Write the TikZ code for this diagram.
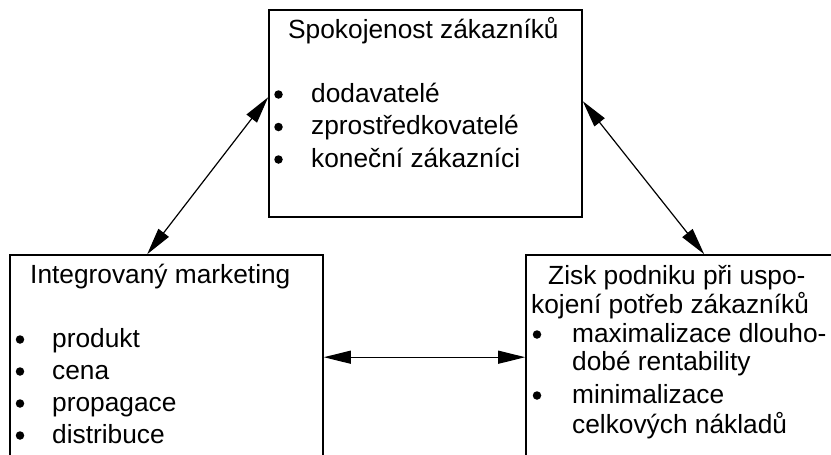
\documentclass[tikz,border=0pt]{standalone}
\usepackage{fontspec}
\setmainfont{Liberation Sans}
\usetikzlibrary{arrows.meta,calc}
\begin{document}
\begin{tikzpicture}[x=1pt,y=-1pt,
  box/.style={draw,line width=1.6pt,rectangle,inner sep=0pt},
  txt/.style={inner sep=0pt,anchor=base west,font=\fontsize{26.3}{32}\selectfont},
  bul/.style={circle,fill,inner sep=0pt,minimum size=8.5pt},
  link/.style={line width=1.2pt,{Triangle[length=27pt,width=13pt]}-{Triangle[length=27pt,width=13pt]}}]
\useasboundingbox (0,0) rectangle (831,455);
\clip (0,0) rectangle (831,455);
% boxes
\node[box,minimum width=313pt,minimum height=207pt] (top) at (425.5,113.5) {};
\node[box,minimum width=313pt,minimum height=265pt] (left) at (166.5,387.5) {};
\node[box,minimum width=354pt,minimum height=265pt] (right) at (703,387.5) {};
% top box text
\node[txt] (t0) at (288,38) {Spokojenost zákazníků};
\node[bul] (tb1) at (278.5,94.5) {};
\node[txt] (t1) at (311,102) {dodavatelé};
\node[bul] (tb2) at (278.5,127) {};
\node[txt] (t2) at (311,134.5) {zprostředkovatelé};
\node[bul] (tb3) at (278.5,159.5) {};
\node[txt] (t3) at (311,167) {koneční zákazníci};
% left box text
\node[txt] (l0) at (30,283) {Integrovaný marketing};
\node[bul] (lb1) at (20,339.5) {};
\node[txt] (l1) at (52,347) {produkt};
\node[bul] (lb2) at (20,371.5) {};
\node[txt] (l2) at (52,379) {cena};
\node[bul] (lb3) at (20,403.5) {};
\node[txt] (l3) at (52,411) {propagace};
\node[bul] (lb4) at (20,435.5) {};
\node[txt] (l4) at (52,443) {distribuce};
% right box text
\node[txt] (r0) at (548,284) {Zisk podniku při uspo-};
\node[txt] (r1) at (531,313) {kojení potřeb zákazníků};
\node[bul] (rb1) at (537,334.5) {};
\node[txt] (r2) at (572,342) {maximalizace dlouho-};
\node[txt] (r3) at (572,370) {dobé rentability};
\node[bul] (rb2) at (537,395.5) {};
\node[txt] (r4) at (572,403) {minimalizace};
\node[txt] (r5) at (572,433) {celkových nákladů};
% connector end points on the box borders
\coordinate (a1) at ($(top.north west)+(0,88)$);
\coordinate (a2) at ($(left.north west)+(138,0)$);
\coordinate (b1) at ($(top.north east)+(0,92)$);
\coordinate (b2) at ($(right.north west)+(179,0)$);
\coordinate (c1) at ($(left.north east)+(0,103)$);
\coordinate (c2) at ($(right.north west)+(0,103)$);
\draw[link] (a1) -- (a2);
\draw[link] (b1) -- (b2);
\draw[link] (c1) -- (c2);
\end{tikzpicture}
\end{document}
